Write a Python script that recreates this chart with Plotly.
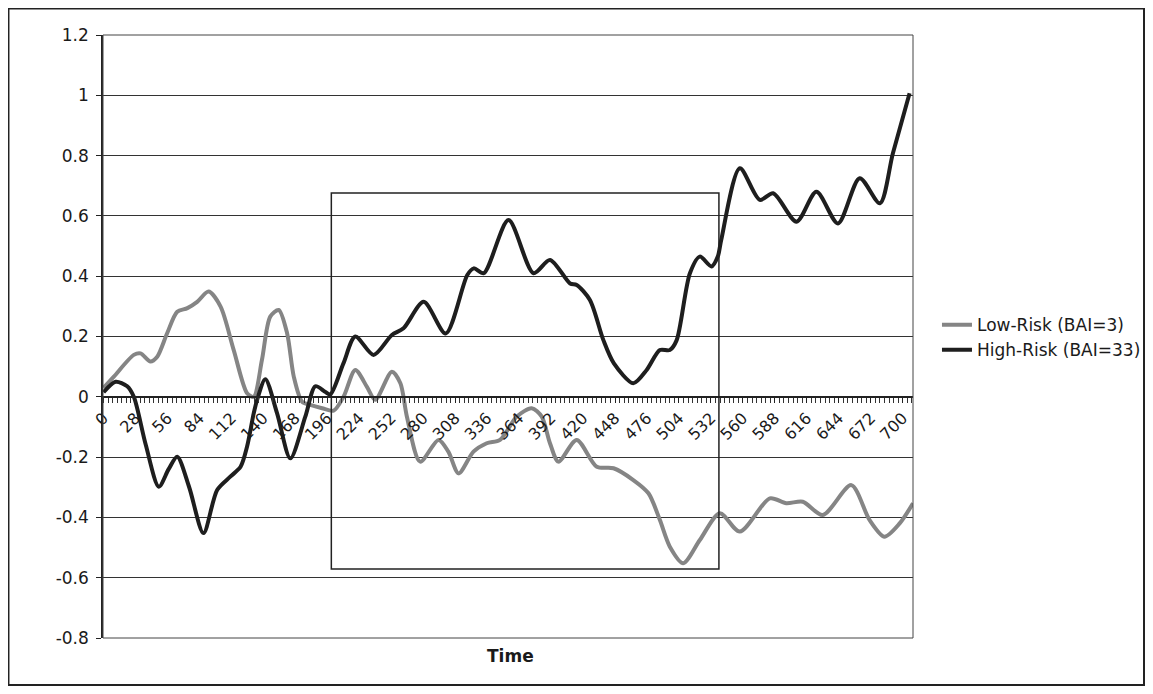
import plotly.graph_objects as go

# ---- data ----
high_t = [0, 10.5, 20.7, 26.5, 37, 48.4, 57, 64.5, 75, 87.5, 99.5, 111, 120, 125.7, 131.5, 134.5,
          141.7, 152, 163.6, 176.7, 185.5, 194, 198.6, 210, 220.5, 236.5, 252.5, 262.7, 280.4,
          299.7, 318.6, 324.3, 333, 354.7, 376.6, 391, 408.6, 414.4, 426, 437.8, 447, 464,
          475.7, 487.3, 496, 502, 513.6, 522.3, 532.5, 538, 541, 557.3, 574.8, 586.5, 607,
          624.4, 643.3, 662.3, 680, 691.4, 706]
high_v = [0.015, 0.05, 0.035, 0.0, -0.16, -0.298, -0.24, -0.199, -0.3, -0.452, -0.309, -0.265,
          -0.232, -0.165, -0.055, -0.01, 0.058, -0.055, -0.204, -0.066, 0.035, 0.017, 0.008,
          0.11, 0.2, 0.139, 0.205, 0.227, 0.315, 0.21, 0.404, 0.426, 0.41, 0.586, 0.41, 0.454,
          0.376, 0.371, 0.321, 0.188, 0.111, 0.045, 0.089, 0.155, 0.155, 0.188, 0.41, 0.465,
          0.432, 0.465, 0.52, 0.758, 0.653, 0.675, 0.581, 0.68, 0.575, 0.725, 0.642, 0.808, 1.007]

low_t = [0, 9, 26.5, 32.4, 41, 47, 55.6, 64.5, 73.4, 82, 92, 102.5, 114, 125.7, 131.5, 138.7,
         146, 153.4, 160.8, 166.6, 173.8, 181, 191.4, 201.5, 210.2, 220.5, 230.7, 238, 252.5,
         260, 265.7, 277.3, 293.4, 302, 311, 324, 335.6, 347.3, 361.8, 375, 383.8, 391, 398.4,
         414.4, 432, 446.7, 464, 477.3, 487.3, 496, 507.7, 522.3, 539.8, 557.3, 583.6, 598,
         612.5, 630, 655, 671, 684, 697.3, 709]
low_v = [0.03, 0.067, 0.139, 0.144, 0.117, 0.133, 0.21, 0.282, 0.294, 0.315, 0.349, 0.299,
         0.155, 0.012, 0.0, 0.122, 0.266, 0.288, 0.21, 0.067, -0.016, -0.027, -0.038, -0.046,
         0.0, 0.089, 0.033, -0.01, 0.083, 0.045, -0.066, -0.215, -0.143, -0.182, -0.254,
         -0.182, -0.154, -0.143, -0.066, -0.038, -0.066, -0.154, -0.215, -0.143, -0.232,
         -0.237, -0.276, -0.32, -0.409, -0.497, -0.552, -0.475, -0.386, -0.447, -0.337,
         -0.353, -0.348, -0.392, -0.293, -0.409, -0.464, -0.42, -0.353]

y_tickvals = [1.2, 1.0, 0.8, 0.6, 0.4, 0.2, 0.0, -0.2, -0.4, -0.6, -0.8]
y_ticktext = ["1.2", "1", "0.8", "0.6", "0.4", "0.2", "0", "-0.2", "-0.4", "-0.6", "-0.8"]

FONT = "DejaVu Sans"
TXT = "#1a1a1a"

fig = go.Figure()
fig.add_trace(go.Scatter(x=low_t, y=low_v, mode="lines", name="Low-Risk (BAI=3)",
                         line=dict(color="#858585", width=4, shape="spline", smoothing=0.8)))
fig.add_trace(go.Scatter(x=high_t, y=high_v, mode="lines", name="High-Risk (BAI=33)",
                         line=dict(color="#1e1e1e", width=4, shape="spline", smoothing=0.8)))

fig.update_layout(
    width=1137, height=678,
    margin=dict(l=95, r=232, t=27, b=48, autoexpand=False),
    paper_bgcolor="white", plot_bgcolor="white",
    font=dict(family=FONT, color=TXT),
    showlegend=True,
    legend=dict(x=1.0296, y=0.498, xanchor="left", yanchor="middle",
                font=dict(size=17, family=FONT, color=TXT),
                bgcolor="rgba(0,0,0,0)", tracegroupgap=0),
    xaxis=dict(range=[-0.5, 709], tickmode="linear", tick0=0, dtick=28,
               anchor="free", position=0.4, showgrid=False, zeroline=False,
               showline=True, linecolor="#222", linewidth=1.5,
               ticks="outside", ticklen=5, tickcolor="#222", tickwidth=1,
               tickangle=-45, tickfont=dict(size=16, family=FONT, color=TXT),
               minor=dict(dtick=4, tick0=0, ticks="outside", ticklen=5,
                          tickcolor="#333", tickwidth=1, showgrid=False)),
    yaxis=dict(range=[-0.8, 1.2], tickmode="array", tickvals=y_tickvals, ticktext=y_ticktext,
               showgrid=True, gridcolor="#333", gridwidth=1.2, zeroline=False,
               showline=True, linecolor="#222", linewidth=1.5,
               ticks="outside", ticklen=5, tickcolor="#222", ticklabelstandoff=4,
               tickfont=dict(size=17, family=FONT, color=TXT)),
)

# plot-area border
fig.add_shape(type="rect", xref="paper", yref="paper", x0=0, x1=1, y0=0, y1=1,
              line=dict(color="#444", width=1))
# highlighted window
fig.add_shape(type="rect", xref="x", yref="y", x0=199.5, x1=539, y0=-0.571, y1=0.676,
              line=dict(color="#222", width=1.5))
# outer chart frame
fig.add_shape(type="rect", xref="paper", yref="paper", x0=-0.1167, x1=1.2852,
              y0=-0.0779, y1=1.0439, line=dict(color="#222", width=2))

fig.add_annotation(text="<b>Time</b>", xref="paper", yref="paper", x=0.5025, y=-0.0498,
                   showarrow=False, font=dict(size=17, family=FONT, color=TXT))

fig.write_html("out.html")
